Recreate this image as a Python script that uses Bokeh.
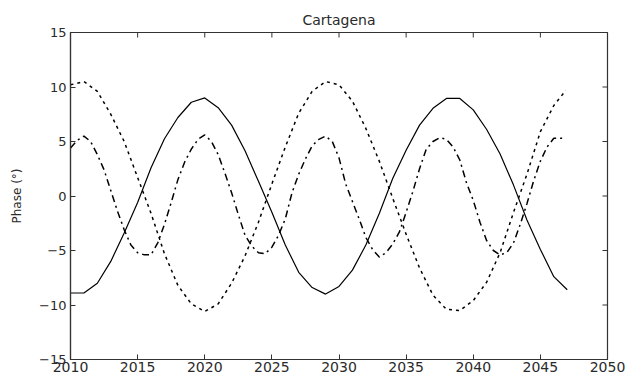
import math
from bokeh.plotting import figure
from bokeh.models import Range1d, LinearAxis, FixedTicker
from bokeh.embed import file_html
from bokeh.resources import INLINE

# ---- data ----
title_text = "Cartagena"
y_label = "Phase (°)"

x_min, x_max = 2010, 2050
y_min, y_max = -15, 15
x_ticks = [2010, 2015, 2020, 2025, 2030, 2035, 2040, 2045, 2050]
y_ticks = [-15, -10, -5, 0, 5, 10, 15]
y_tick_labels = ["\u221215", "\u221210", "\u22125", "0", "5", "10", "15"]

years_solid = list(range(2010, 2048))
phase_solid = [-8.9, -8.9, -8.0, -6.0, -3.4, -0.6, 2.6, 5.25, 7.2, 8.6,
               9.0, 8.1, 6.5, 4.15, 1.35, -1.5, -4.5, -7.0, -8.4, -9.0,
               -8.3, -6.8, -4.5, -1.6, 1.6, 4.2, 6.5, 8.05, 8.95, 8.95,
               7.9, 6.1, 3.85, 1.0, -2.2, -4.9, -7.4, -8.6]

years_dotted = list(range(2010, 2047)) + [2046.9]
phase_dotted = [10.2, 10.5, 9.6, 7.5, 5.0, 1.7, -1.6, -5.3, -8.2, -9.9,
                -10.6, -9.9, -8.0, -5.5, -2.4, 1.1, 4.5, 7.6, 9.6, 10.5,
                10.2, 8.7, 6.2, 3.2, -0.2, -3.5, -6.6, -9.1, -10.4, -10.5,
                -9.6, -7.9, -5.2, -1.5, 2.0, 5.9, 8.3, 9.7]

years_dashdot = [2010.0, 2010.5, 2011.0, 2011.5, 2012.0, 2012.5, 2013.0, 2013.5,
                 2014.0, 2014.5, 2015.0, 2015.5, 2016.0, 2016.5, 2017.0, 2017.5,
                 2018.0, 2018.5, 2019.0, 2019.5, 2020.0, 2020.5, 2021.0, 2021.5,
                 2022.0, 2022.5, 2023.0, 2023.5, 2024.0, 2024.5, 2025.0, 2025.5,
                 2026.0, 2026.5, 2027.0, 2027.5, 2028.0, 2028.5, 2029.0, 2029.5,
                 2030.0, 2030.5, 2031.0, 2031.5, 2032.0, 2032.5, 2033.0, 2033.5,
                 2034.0, 2034.5, 2035.0, 2035.5, 2036.0, 2036.5, 2037.0, 2037.5,
                 2038.0, 2038.5, 2039.0, 2039.5, 2040.0, 2040.5, 2041.0, 2041.5,
                 2042.0, 2042.5, 2043.0, 2043.5, 2044.0, 2044.5, 2045.0, 2045.5,
                 2046.0, 2046.7]
phase_dashdot = [4.4, 5.1, 5.5, 5.0, 3.8, 2.4, 0.5, -1.4,
                 -3.1, -4.5, -5.2, -5.4, -5.4, -4.3, -2.6, -0.6,
                 1.5, 3.1, 4.3, 5.2, 5.6, 5.0, 3.8, 2.1,
                 0.3, -1.7, -3.6, -4.6, -5.2, -5.3, -4.7, -3.6,
                 -2.1, 0.3, 2.0, 3.4, 4.6, 5.2, 5.5, 5.0,
                 3.5, 1.1, -0.5, -2.1, -3.8, -4.9, -5.6, -5.2,
                 -4.4, -3.3, -1.5, 0.4, 2.5, 4.3, 5.0, 5.35,
                 5.2, 4.5, 3.3, 1.2, -0.4, -2.4, -4.1, -5.0,
                 -5.4, -5.2, -4.3, -2.6, -0.7, 1.4, 3.2, 4.5,
                 5.3, 5.3]

FONT = "DejaVu Sans"
TXT = "#2a2a2a"
AX = "#333333"

p = figure(width=632, height=376, output_backend="svg", toolbar_location=None,
           x_range=Range1d(x_min, x_max), y_range=Range1d(y_min, y_max),
           min_border_left=70, min_border_right=25, min_border_top=32,
           min_border_bottom=17, x_axis_location=None, y_axis_location=None)
p.background_fill_color = "white"
p.border_fill_color = "white"
p.outline_line_color = AX
p.outline_line_width = 1.2
p.xgrid.visible = False
p.ygrid.visible = False

p.title.text = title_text
p.title.align = "center"
p.title.text_font = FONT
p.title.text_font_size = "14px"
p.title.text_font_style = "normal"
p.title.text_color = TXT

xt = FixedTicker(ticks=x_ticks, minor_ticks=[])
yt = FixedTicker(ticks=y_ticks, minor_ticks=[])
y_over = {t: lab for t, lab in zip(y_ticks, y_tick_labels)}


def style(ax):
    ax.axis_line_color = AX
    ax.axis_line_width = 1.2
    ax.major_tick_line_color = AX
    ax.major_tick_in = 5
    ax.major_tick_out = 0
    ax.minor_tick_line_color = None
    ax.major_label_text_font = FONT
    ax.major_label_text_color = TXT


bottom = LinearAxis(ticker=xt)
style(bottom)
bottom.major_label_text_font_size = "14px"
bottom.major_label_standoff = 2
p.add_layout(bottom, "below")

left = LinearAxis(ticker=yt, major_label_overrides=y_over)
style(left)
left.major_label_text_font_size = "13px"
left.major_label_standoff = 4
left.axis_label = y_label
left.axis_label_text_font = FONT
left.axis_label_text_font_size = "12px"
left.axis_label_text_font_style = "normal"
left.axis_label_text_color = TXT
left.axis_label_standoff = 12
p.add_layout(left, "left")

# inward tick marks on the top and right edges of the box (half of each
# marker is clipped away by the frame)
p.scatter(x_ticks, [y_max] * len(x_ticks), marker="dash", size=10,
          angle=math.pi / 2, line_color=AX, line_width=1)
p.scatter([x_max] * len(y_ticks), y_ticks, marker="dash", size=10,
          line_color=AX, line_width=1)

p.line(years_solid, phase_solid, line_color="black", line_width=1.2)
p.line(years_dotted, phase_dotted, line_color="black", line_width=1.5,
       line_dash="3 4")
p.line(years_dashdot, phase_dashdot, line_color="black", line_width=1.5,
       line_dash="7 4 2 4")

open("out.html", "w").write(file_html(p, INLINE))
